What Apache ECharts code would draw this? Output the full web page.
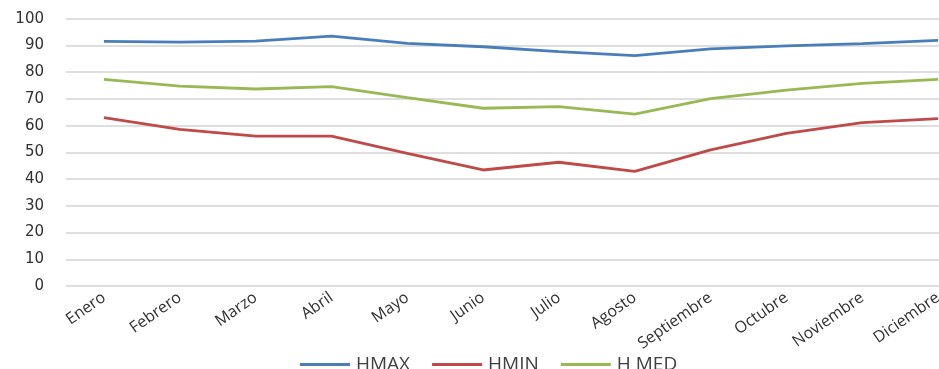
<!DOCTYPE html>
<html><head><meta charset="utf-8">
<script src="https://cdn.jsdelivr.net/npm/echarts@6/dist/echarts.min.js"></script>
<style>html,body{margin:0;padding:0;background:#fff;overflow:hidden;width:939px;height:369px}#c{width:976px;height:369px}</style>
</head><body><div id="c"></div>
<script>
const categories = ['Enero','Febrero','Marzo','Abril','Mayo','Junio','Julio','Agosto','Septiembre','Octubre','Noviembre','Diciembre'];
const hmax = [91.5, 91.2, 91.6, 93.5, 90.8, 89.5, 87.7, 86.2, 88.7, 89.8, 90.7, 91.9];
const hmin = [63.0, 58.6, 56.1, 56.1, 49.6, 43.4, 46.3, 42.9, 50.9, 57.1, 61.1, 62.6];
const hmed = [77.3, 74.8, 73.7, 74.6, 70.5, 66.5, 67.1, 64.3, 70.1, 73.3, 75.8, 77.3];
const seriesNames = ['HMAX','HMIN','H MED'];
const colors = ['#4A7EBB','#BE4B48','#98B954'];
const chart = echarts.init(document.getElementById('c'));
const mk = (name, data, color) => ({
  name, type:'line', data, symbol:'none', smooth:false,
  lineStyle:{color, width:2.8}, itemStyle:{color}
});
chart.setOption({
  animation:false,
  color: colors,
  textStyle:{fontFamily:'Open Sans'},
  grid:{left:66, right:0, top:18.7, bottom:83, containLabel:false},
  legend:{
    top:355, left:300, padding:0, itemWidth:50, itemHeight:3, itemGap:22,
    icon:'rect',
    textStyle:{fontSize:19, color:'#404040', fontFamily:'Open Sans', padding:[2,0,0,1]},
    data: seriesNames
  },
  xAxis:{
    type:'category', data:categories, boundaryGap:true,
    axisLine:{show:false}, axisTick:{show:false},
    axisLabel:{rotate:35, fontSize:16, color:'#303030', margin:10, interval:0, fontFamily:'Open Sans'}
  },
  yAxis:{
    type:'value', min:0, max:100, interval:10,
    axisLine:{show:false}, axisTick:{show:false},
    axisLabel:{fontSize:15, color:'#303030', margin:22, fontFamily:'DejaVu Sans'},
    splitLine:{lineStyle:{color:'#D4D4D4', width:1.6}}
  },
  series:[mk(seriesNames[0],hmax,colors[0]), mk(seriesNames[1],hmin,colors[1]), mk(seriesNames[2],hmed,colors[2])]
});
</script></body></html>
